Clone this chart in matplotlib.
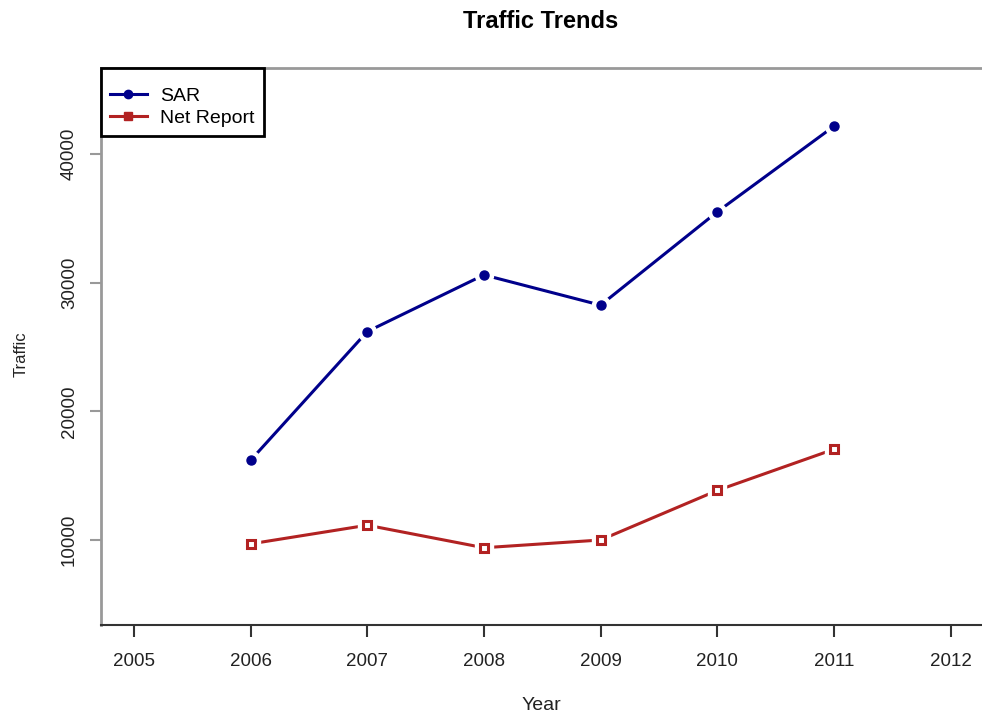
import matplotlib
matplotlib.use("Agg")
import matplotlib.pyplot as plt
from matplotlib.lines import Line2D

years = [2006, 2007, 2008, 2009, 2010, 2011]
sar = [16200, 26200, 30600, 28250, 35500, 42150]
net_report = [9700, 11150, 9400, 10000, 13850, 17050]
x_ticks = [2005, 2006, 2007, 2008, 2009, 2010, 2011, 2012]
y_ticks = [10000, 20000, 30000, 40000]

plt.rcParams['font.family'] = ['Liberation Sans', 'DejaVu Sans']

W, H = 982, 721
fig = plt.figure(figsize=(W / 100, H / 100), dpi=100)
ax = fig.add_axes([101 / W, 1 - 625 / H, (982 - 101) / W, (625 - 68) / H])

blue = '#00008B'
red = '#B22222'

# lines with white gaps around markers
ax.plot(years, sar, color=blue, lw=2.2, zorder=2, solid_capstyle='butt')
ax.plot(years, sar, ls='none', marker='o', ms=13, mfc='white', mec='white', zorder=3)
ax.plot(years, sar, ls='none', marker='o', ms=6.5, mfc=blue, mec=blue, zorder=4)

ax.plot(years, net_report, color=red, lw=2.2, zorder=2, solid_capstyle='butt')
ax.plot(years, net_report, ls='none', marker='s', ms=13, mfc='white', mec='white', zorder=3)
ax.plot(years, net_report, ls='none', marker='s', ms=5.6, mfc='white', mec=red, mew=2.2, zorder=4)

ax.set_xlim(2004.717, 2012.27)
ax.set_ylim(3395, 46680)
ax.set_xticks(x_ticks)
ax.set_xticklabels([str(v) for v in x_ticks], fontsize=13.5, color='#222222')
ax.set_yticks(y_ticks)
ax.set_yticklabels([str(v) for v in y_ticks], fontsize=13.5, color='#222222',
                   rotation=90, va='center')

ax.spines['right'].set_visible(False)
ax.spines['top'].set_color('#999999')
ax.spines['top'].set_linewidth(2)
ax.spines['left'].set_color('#999999')
ax.spines['left'].set_linewidth(2)
ax.spines['bottom'].set_color('#333333')
ax.spines['bottom'].set_linewidth(1.5)

ax.tick_params(axis='x', direction='out', length=8.5, width=1.5, color='#333333', pad=12)
ax.tick_params(axis='y', direction='out', length=8, width=1.5, color='#999999', pad=8.5)

fig.text(541 / W, 1 - 22 / H, 'Traffic Trends', ha='center', va='center',
         fontsize=17, fontweight='bold')
fig.text(541 / W, 1 - 705 / H, 'Year', ha='center', va='center', fontsize=14, color='#222222')
fig.text(21 / W, 1 - 354 / H, 'Traffic', ha='center', va='center', fontsize=12,
         rotation=90, color='#222222')

handles = [
    Line2D([], [], color=blue, lw=2.2, marker='o', ms=6, mfc=blue, mec=blue),
    Line2D([], [], color=red, lw=2.2, marker='s', ms=6, mfc=red, mec=red),
]
leg = ax.legend(handles, ['SAR', 'Net Report'], loc='upper left',
                bbox_to_anchor=(0, 1), borderaxespad=0, fancybox=False,
                framealpha=1, edgecolor='black', fontsize=14,
                handlelength=1.9, handletextpad=0.7, borderpad=0.45,
                labelspacing=0.2, title=' ', title_fontsize=5.5)
leg.get_frame().set_linewidth(2)
leg.set_zorder(10)

fig.savefig('out.png', dpi=100)
